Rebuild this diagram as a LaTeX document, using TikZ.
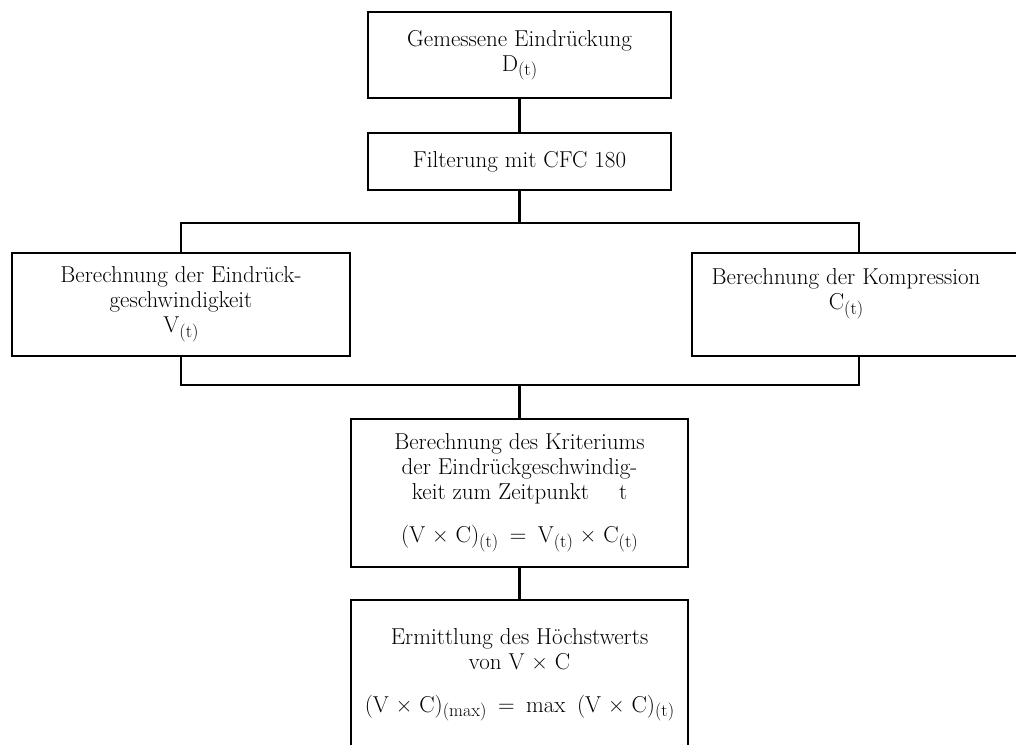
\documentclass[tikz,border=0pt]{standalone}
\usepackage{fontspec}
\newcommand\sbx[1]{\raisebox{-4.5pt}{\fontsize{18}{18}\selectfont(#1)}}
\begin{document}
\begin{tikzpicture}[x=1pt,y=-1pt,
  box/.style={draw,line width=2.8pt,rectangle,anchor=north west,inner sep=0pt,outer sep=0pt,
    align=center,font=\fontsize{23}{25}\selectfont},
  txt/.style={inner sep=0pt,align=center,font=\fontsize{23}{25}\selectfont},
  conn/.style={line width=2.8pt}]
\useasboundingbox (0,0) rectangle (1016,744);
\clip (0,0) rectangle (1016,744);
\node[box,minimum width=303pt,minimum height=86pt] (b1) at (368,12)
  {Gemessene Eindrückung\\D\sbx{t}};
\node[box,minimum width=303pt,minimum height=57pt] (b2) at (368,133)
  {Filterung mit CFC 180};
\node[box,minimum width=338pt,minimum height=103pt] (bl) at (12,253)
  {Berechnung der Eindrück-\\geschwindigkeit\\V\sbx{t}};
\node[box,minimum width=334pt,minimum height=103pt] (br) at (692,253) {};
\node[txt] (brt) at (846,294) {Berechnung der Kompression\\C\sbx{t}};
\node[box,minimum width=337pt,minimum height=148pt] (b3) at (351,419)
  {Berechnung des Kriteriums\\der Eindrückgeschwindig-\\keit zum Zeitpunkt\quad\ t\\[18pt]
   (V × C)\sbx{t}\enspace=\enspace V\sbx{t} × C\sbx{t}};
\node[box,minimum width=337pt,minimum height=150pt] (b4) at (351,600)
  {Ermittlung des Höchstwerts\\von V × C\\[18pt]
   (V × C)\sbx{max}\enspace=\enspace max\enspace(V × C)\sbx{t}};
\coordinate (j1) at (b2.south |- 0,223);
\coordinate (j2) at (b2.south |- 0,385);
\draw[conn] (b1.south) -- (b2.north);
\draw[conn] (b2.south) -- (j1);
\draw[conn] (bl.north) |- (j1) -| (br.north);
\draw[conn] (bl.south) |- (j2) -| (br.south);
\draw[conn] (j2) -- (b3.north);
\draw[conn] (b3.south) -- (b4.north);
\end{tikzpicture}
\end{document}
